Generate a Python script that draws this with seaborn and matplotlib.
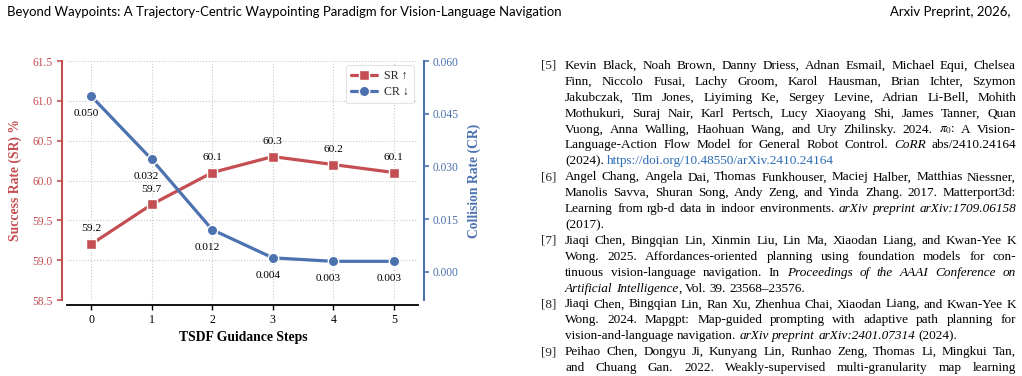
import matplotlib
matplotlib.use("Agg")
import matplotlib.pyplot as plt
import seaborn as sns
import numpy as np

# ---------------- data ----------------
steps = [0, 1, 2, 3, 4, 5]
sr_values = [59.2, 59.7, 60.1, 60.3, 60.2, 60.1]
cr_values = [0.050, 0.032, 0.012, 0.004, 0.003, 0.003]
sr_ticks = [58.5, 59.0, 59.5, 60.0, 60.5, 61.0, 61.5]
cr_ticks = [0.000, 0.015, 0.030, 0.045, 0.060]

header_left = "Beyond Waypoints: A Trajectory-Centric Waypointing Paradigm for Vision-Language Navigation"
header_right = "Arxiv Preprint, 2026,"

ref_numbers = {0: "[5]", 7: "[6]", 11: "[7]", 15: "[8]", 18: "[9]"}
ref_lines = [
    ("Kevin Black, Noah Brown, Danny Driess, Adnan Esmail, Michael Equi, Chelsea", True),
    ("Finn, Niccolo Fusai, Lachy Groom, Karol Hausman, Brian Ichter, Szymon", True),
    ("Jakubczak, Tim Jones, Liyiming Ke, Sergey Levine, Adrian Li-Bell, Mohith", True),
    ("Mothukuri, Suraj Nair, Karl Pertsch, Lucy Xiaoyang Shi, James Tanner, Quan", True),
    ("Vuong, Anna Walling, Haohuan Wang, and Ury Zhilinsky. 2024. $\\pi_0$: A Vision-", True),
    ("Language-Action Flow Model for General Robot Control. *CoRR* abs/2410.24164", True),
    ("(2024).  <https://doi.org/10.48550/arXiv.2410.24164>", False),
    ("Angel Chang, Angela Dai, Thomas Funkhouser, Maciej Halber, Matthias Niessner,", True),
    ("Manolis Savva, Shuran Song, Andy Zeng, and Yinda Zhang. 2017. Matterport3d:", True),
    ("Learning from rgb-d data in indoor environments. *arXiv preprint arXiv:1709.06158*", True),
    ("(2017).", False),
    ("Jiaqi Chen, Bingqian Lin, Xinmin Liu, Lin Ma, Xiaodan Liang, and Kwan-Yee K", True),
    ("Wong. 2025. Affordances-oriented planning using foundation models for con-", True),
    ("tinuous vision-language navigation. In *Proceedings of the AAAI Conference on*", True),
    ("*Artificial Intelligence*, Vol. 39. 23568\u201323576.", False),
    ("Jiaqi Chen, Bingqian Lin, Ran Xu, Zhenhua Chai, Xiaodan Liang, and Kwan-Yee K", True),
    ("Wong. 2024. Mapgpt: Map-guided prompting with adaptive path planning for", True),
    ("vision-and-language navigation.  *arXiv preprint arXiv:2401.07314* (2024).", False),
    ("Peihao Chen, Dongyu Ji, Kunyang Lin, Runhao Zeng, Thomas Li, Mingkui Tan,", True),
    ("and Chuang Gan. 2022.  Weakly-supervised multi-granularity map learning", True),
]

# ---------------- style ----------------
sns.set_theme(style="white")
SERIF = ["Liberation Serif", "DejaVu Serif"]
plt.rcParams["font.family"] = SERIF
plt.rcParams["mathtext.fontset"] = "stix"

RED = "#C44E52"
BLUE = "#4C72B0"

W, H = 1022, 376
fig = plt.figure(figsize=(W / 100, H / 100), dpi=100)
fig.patch.set_facecolor("white")

def fx(px):
    return px / W

def fy(py):
    return 1 - py / H

# ---------------- chart ----------------
ax = fig.add_axes([fx(67), fy(300), (418 - 67) / W, (300 - 61) / H])
ax2 = ax.twinx()

sns.lineplot(x=steps, y=sr_values, ax=ax, color=RED, marker="s", markersize=7.5,
             markeredgecolor="white", markeredgewidth=1.0, linewidth=2.3, label="SR \u2191",
             legend=False)
sns.lineplot(x=steps, y=cr_values, ax=ax2, color=BLUE, marker="o", markersize=7.5,
             markeredgecolor="white", markeredgewidth=1.0, linewidth=2.3, label="CR \u2193",
             legend=False)

ax.set_xlim(-0.4, 5.4)
ax.set_ylim(58.5, 61.5)
ax2.set_ylim(-0.008, 0.060)
ax.set_xticks(steps)
ax.set_yticks(sr_ticks)
ax.set_yticklabels([f"{t:.1f}" for t in sr_ticks])
ax2.set_yticks(cr_ticks)
ax2.set_yticklabels([f"{t:.3f}" for t in cr_ticks])

ax.grid(True, linestyle=":", color="#c8c8c8", linewidth=0.8)
ax2.grid(False)

for a in (ax, ax2):
    a.spines["top"].set_visible(False)
ax.spines["right"].set_visible(False)
ax2.spines["left"].set_visible(False)
ax2.spines["bottom"].set_visible(False)
ax.spines["left"].set_position(("outward", 3.6))
ax.spines["bottom"].set_position(("outward", 3.6))
ax2.spines["right"].set_position(("outward", 4.3))
ax.spines["left"].set_color(RED)
ax.spines["left"].set_linewidth(1.5)
ax.spines["bottom"].set_color("black")
ax.spines["bottom"].set_linewidth(1.3)
ax2.spines["right"].set_color(BLUE)
ax2.spines["right"].set_linewidth(1.5)

ax.tick_params(axis="y", colors=RED, labelcolor=RED, length=3.5, width=1.2, pad=3.2,
               labelsize=8.3, left=True, direction="out")
ax.tick_params(axis="x", colors="black", length=3.5, width=1.0, pad=3, labelsize=8.6,
               bottom=True, direction="out")
ax2.tick_params(axis="y", colors=BLUE, labelcolor=BLUE, length=3.5, width=1.2, pad=3,
                labelsize=8.3, right=True, direction="out")

ax.set_xlabel("TSDF Guidance Steps", fontsize=9.8, fontweight="bold", color="black")
ax.xaxis.set_label_coords(0.501, -0.128)
ax.set_ylabel("Success Rate (SR) %", fontsize=9.8, fontweight="bold", color=RED)
ax.yaxis.set_label_coords(-0.128, 0.5)
ax2.set_ylabel("Collision Rate (CR)", fontsize=9.8, fontweight="bold", color=BLUE)
ax2.yaxis.set_label_coords(1.142, 0.5)

for x, v in zip(steps, sr_values):
    ax.annotate(f"{v:.1f}", (x, v), xytext=(0, 11), textcoords="offset points",
                ha="center", va="center", fontsize=8.2, color="black")
for x, v in zip(steps, cr_values):
    ax2.annotate(f"{v:.3f}", (x, v), xytext=(-3.6, -12.5), textcoords="offset points",
                 ha="center", va="center", fontsize=8.2, color="black")

h1, l1 = ax.get_legend_handles_labels()
h2, l2 = ax2.get_legend_handles_labels()
leg = ax2.legend(h1 + h2, l1 + l2, loc="upper right", fontsize=8.6, frameon=True,
                 handlelength=2.2, borderaxespad=0.35, borderpad=0.4, labelspacing=0.35,
                 handletextpad=0.6, fancybox=True)
leg.get_frame().set_edgecolor("#dddddd")
leg.get_frame().set_linewidth(0.8)

# ---------------- page text ----------------
renderer = fig.canvas.get_renderer()

def measure(text, **kw):
    t = fig.text(0, 0, text, **kw)
    w = t.get_window_extent(renderer).width
    t.remove()
    return w

# header
HFAM = ["Lato", "DejaVu Sans"]
hw = measure(header_left, fontsize=10, family=HFAM)
hfs = 10 * 556 / hw
fig.text(fx(7), fy(16), header_left, fontsize=hfs, family=HFAM, ha="left", va="baseline",
         color="black")
fig.text(fx(1010), fy(16), header_right, fontsize=hfs, family=HFAM, ha="right",
         va="baseline", color="black")

LINK = "#2a6db5"

def parse(line):
    pieces = []
    style = "n"
    buf = ""
    for ch in line:
        if ch in "*<>":
            if buf:
                pieces.append((buf, style))
                buf = ""
            if ch == "*":
                style = "i" if style == "n" else "n"
            elif ch == "<":
                style = "l"
            else:
                style = "n"
        else:
            buf += ch
    if buf:
        pieces.append((buf, style))
    words = [[]]
    for txt, st in pieces:
        parts = txt.split(" ")
        for k, p in enumerate(parts):
            if k > 0:
                words.append([])
            if p:
                words[-1].append((p, st))
    return [w for w in words if w]

def props(st, fs):
    d = dict(fontsize=fs, family=SERIF, color="black")
    if st == "i":
        d["style"] = "italic"
    if st == "l":
        d["color"] = LINK
    return d

parsed = [parse(l) for l, _ in ref_lines]

def word_widths(words, fs):
    return [sum(measure(p, **props(st, fs)) for p, st in w) for w in words]

base = 10.0
space_base = measure("a a", fontsize=base, family=SERIF) - measure("aa", fontsize=base, family=SERIF)
max_nat = 0
for (l, just), words in zip(ref_lines, parsed):
    if just:
        ww = word_widths(words, base)
        nat = sum(ww) + space_base * (len(words) - 1)
        max_nat = max(max_nat, nat)
X0, X1 = 565, 1016
rfs = base * (X1 - X0) / max_nat * 0.995
space = space_base * rfs / base

for i, ((l, just), words) in enumerate(zip(ref_lines, parsed)):
    yb = 69 + 15.9 * i
    if i in ref_numbers:
        fig.text(fx(541), fy(yb), ref_numbers[i], fontsize=rfs, family=SERIF,
                 ha="left", va="baseline")
    ww = word_widths(words, rfs)
    if just and len(words) > 1:
        gap = ((X1 - X0) - sum(ww)) / (len(words) - 1)
    else:
        gap = space
    x = X0
    for w, wwid in zip(words, ww):
        xp = x
        for p, st in w:
            fig.text(fx(xp), fy(yb), p, ha="left", va="baseline", **props(st, rfs))
            xp += measure(p, **props(st, rfs))
        x += wwid + gap

fig.savefig("out.png", dpi=100)
